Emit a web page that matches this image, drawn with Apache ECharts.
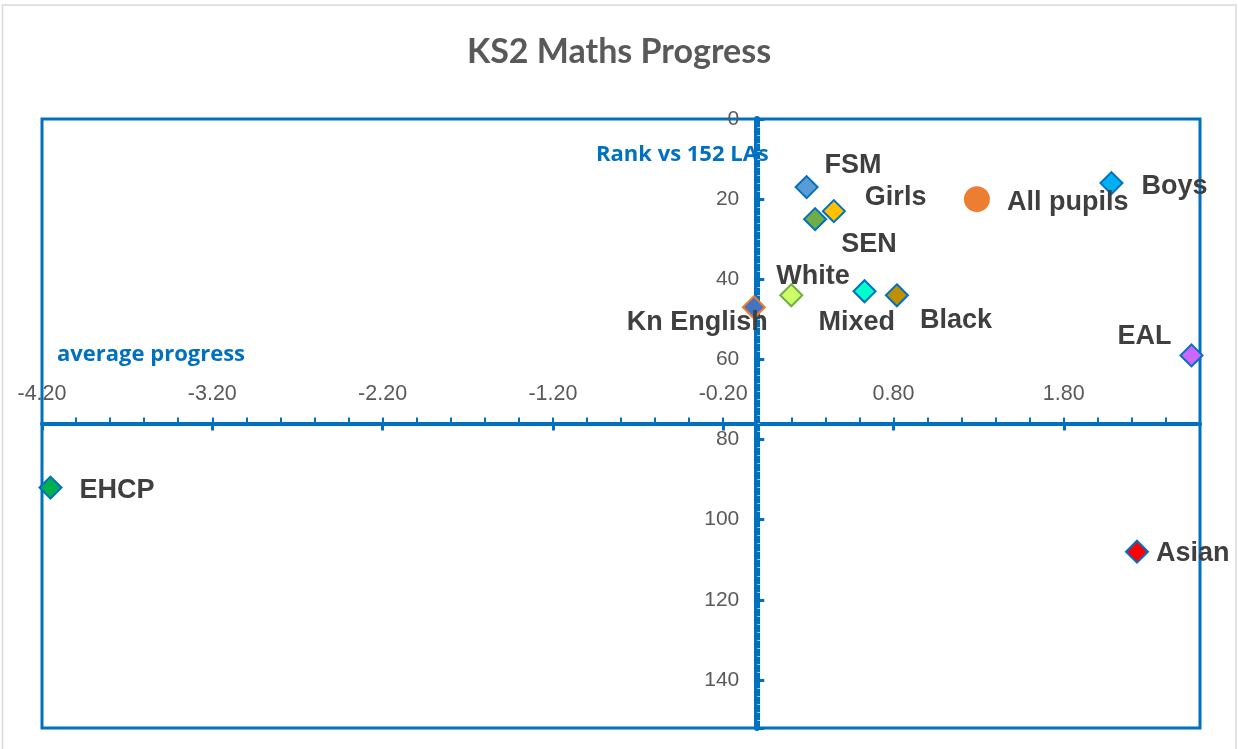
<!DOCTYPE html>
<html>
<head>
<meta charset="utf-8">
<title>KS2 Maths Progress</title>
<script src="https://cdn.jsdelivr.net/npm/echarts@6/dist/echarts.min.js"></script>
<style>
  html, body { margin: 0; padding: 0; background: #fff; }
  #chart { width: 1238px; height: 749px; }
</style>
</head>
<body>
<div id="chart"></div>
<script>
// pupil groups: average progress (x) against rank vs 152 LAs (y, 1 = best)
const groups = ['FSM', 'Girls', 'SEN', 'All pupils', 'Boys', 'White', 'Mixed', 'Black', 'Kn English', 'EAL', 'EHCP', 'Asian'];
const progress = [0.29, 0.45, 0.34, 1.29, 2.08, 0.20, 0.63, 0.82, -0.02, 2.55, -4.15, 2.23];
const rank = [17, 23, 25, 20, 16, 44, 43, 44, 47, 59, 92, 108];

const xTickLabels = [-4.2, -3.2, -2.2, -1.2, -0.2, 0.8, 1.8];
const yTickLabels = [0, 20, 40, 60, 80, 100, 120, 140];

const xMin = -4.2, xMax = 2.6;
const yMin = 0, yMax = 152;
const xCrossRank = 76; // progress axis crosses the rank axis here

const axisBlue = '#0070C0';
const labelFont = '"Liberation Sans", Arial, sans-serif';
const titleFont = 'Lato, "Open Sans", sans-serif';
const noteFont = '"Open Sans", Lato, sans-serif';

// marker colours per group
const markerFill = {
  'FSM': '#5B9BD5', 'Girls': '#FFC000', 'SEN': '#70AD47', 'All pupils': '#ED7D31',
  'Boys': '#00B0F0', 'White': '#CCFF66', 'Mixed': '#00FFCC', 'Black': '#BF9000',
  'Kn English': '#4472C4', 'EAL': '#CC66FF', 'EHCP': '#00B050', 'Asian': '#FF0000'
};
const markerBorder = {
  'White': '#70AD47', 'Kn English': '#ED7D31'
};

// where each data label sits next to its marker
const labelPlace = {
  'FSM': ['right', [1, -22]],
  'Girls': ['right', [14, -14]],
  'SEN': ['right', [9, 25]],
  'All pupils': ['right', [12, 3]],
  'Boys': ['right', [13, 3]],
  'White': ['right', [-32, -19]],
  'Mixed': ['right', [-63, 31]],
  'Black': ['right', [6, 25]],
  'Kn English': ['left', [31, 15]],
  'EAL': ['left', [-3, -19]],
  'EHCP': ['right', [12, 3]],
  'Asian': ['right', [2, 2]]
};

const W = 1238, H = 749;
const grid = { left: 42, top: 119, right: 38, bottom: 21 };
const plotW = W - grid.left - grid.right;
const plotH = H - grid.top - grid.bottom;
// move the axes off the plot edges so they cross inside it
const yAxisOffset = -plotW * (0 - xMin) / (xMax - xMin);
const xAxisOffset = -plotH * (yMax - xCrossRank) / (yMax - yMin);

const points = groups.map((name, i) => {
  const isAll = name === 'All pupils';
  return {
    name,
    value: [progress[i], rank[i]],
    symbol: isAll ? 'circle' : 'diamond',
    symbolSize: isAll ? 26 : 22,
    itemStyle: {
      color: markerFill[name],
      opacity: 1,
      borderColor: isAll ? markerFill[name] : (markerBorder[name] || axisBlue),
      borderWidth: isAll ? 0 : 2
    },
    label: {
      position: labelPlace[name][0],
      offset: labelPlace[name][1]
    }
  };
});

const chart = echarts.init(document.getElementById('chart'));

chart.setOption({
  animation: false,
  backgroundColor: '#ffffff',
  title: {
    text: 'KS2 Maths Progress',
    left: 'center',
    top: 30,
    textStyle: {
      color: '#595959',
      fontSize: 34,
      fontWeight: 'bold',
      fontFamily: titleFont
    }
  },
  grid: {
    left: grid.left,
    top: grid.top,
    right: grid.right,
    bottom: grid.bottom,
    outerBoundsMode: 'none',
    containLabel: false,
    show: true,
    borderColor: axisBlue,
    borderWidth: 3,
    backgroundColor: 'transparent'
  },
  xAxis: [
    {
      // labels and the long ticks
      type: 'value',
      min: xMin,
      max: xMax,
      position: 'bottom',
      offset: xAxisOffset,
      axisLine: { show: true, onZero: false, lineStyle: { color: axisBlue, width: 4 } },
      axisTick: { show: true, customValues: xTickLabels, length: 7, lineStyle: { color: axisBlue, width: 3 } },
      axisLabel: {
        customValues: xTickLabels,
        inside: true,
        margin: 18,
        color: '#595959',
        fontSize: 21.5,
        fontFamily: labelFont,
        formatter: (v) => v.toFixed(2)
      },
      splitLine: { show: false }
    },
    {
      // short ticks every 0.2
      type: 'value',
      min: xMin,
      max: xMax,
      interval: 0.2,
      position: 'bottom',
      offset: xAxisOffset,
      axisLine: { show: false, onZero: false },
      axisTick: { show: true, inside: true, length: 6, lineStyle: { color: axisBlue, width: 2 } },
      axisLabel: { show: false },
      splitLine: { show: false }
    }
  ],
  yAxis: [
    {
      type: 'value',
      inverse: true,
      min: yMin,
      max: yMax,
      interval: 20,
      position: 'left',
      offset: yAxisOffset,
      axisLine: { show: true, onZero: false, lineStyle: { color: axisBlue, width: 6 } },
      axisTick: { show: true, inside: true, length: 7, lineStyle: { color: axisBlue, width: 3 } },
      minorTick: { show: true, splitNumber: 10, length: 3, lineStyle: { color: '#9DC3E6', width: 1 } },
      axisLabel: {
        customValues: yTickLabels,
        margin: 18,
        color: '#595959',
        fontSize: 21,
        fontFamily: labelFont
      },
      splitLine: { show: false }
    }
  ],
  graphic: [
    {
      type: 'rect',
      shape: { x: 2.5, y: 5, width: 1233.5, height: 760 },
      style: { fill: 'none', stroke: '#D9D9D9', lineWidth: 1.5 },
      silent: true,
      z: -1
    },
    {
      type: 'text',
      x: 596,
      y: 155,
      style: {
        text: 'Rank vs 152 LAs',
        fill: axisBlue,
        font: 'bold 22px ' + noteFont,
        verticalAlign: 'middle'
      }
    },
    {
      type: 'text',
      x: 57,
      y: 355,
      style: {
        text: 'average progress',
        fill: axisBlue,
        font: 'bold 22px ' + noteFont,
        verticalAlign: 'middle'
      }
    }
  ],
  series: [
    {
      type: 'scatter',
      xAxisIndex: 0,
      yAxisIndex: 0,
      data: points,
      label: {
        show: true,
        formatter: '{b}',
        color: '#3F3F3F',
        fontSize: 27,
        fontWeight: 'bold',
        fontFamily: labelFont
      }
    }
  ]
});

window.addEventListener('resize', () => chart.resize());
</script>
</body>
</html>
